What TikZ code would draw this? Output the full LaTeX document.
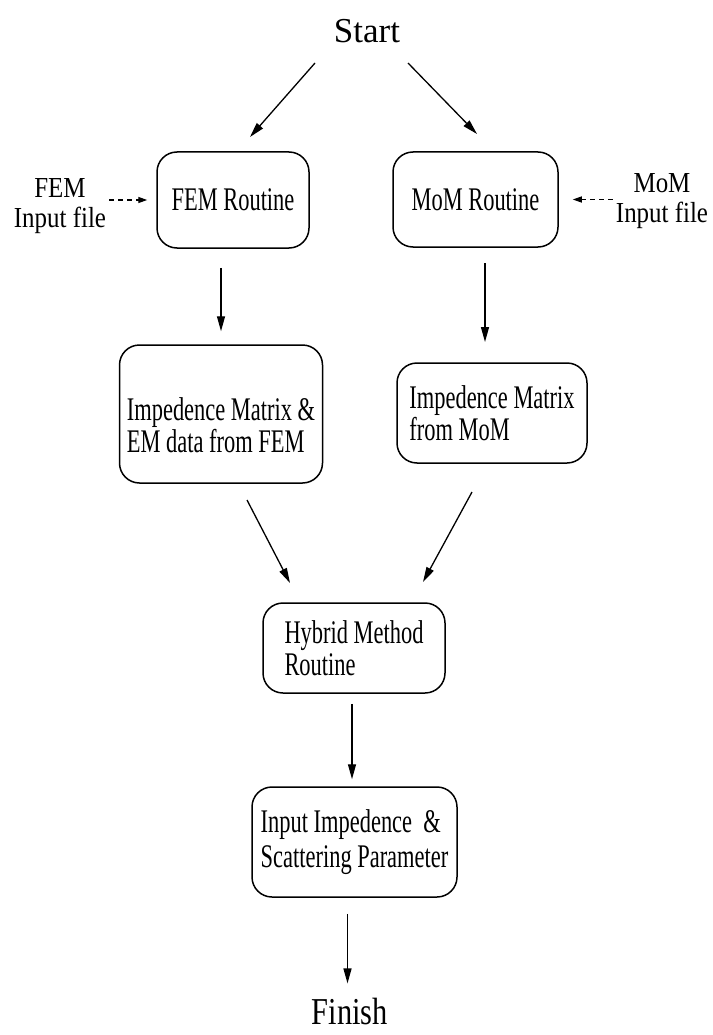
\documentclass[tikz,border=0pt]{standalone}
\usepackage{fontspec}
\setmainfont{Liberation Serif}
\newfontfamily\bodyfont[FakeStretch=0.68]{Liberation Serif}
\newfontfamily\lblfont[FakeStretch=0.86]{Liberation Serif}
\newfontfamily\finfont[FakeStretch=0.8]{Liberation Serif}
\usetikzlibrary{arrows.meta,calc}
\begin{document}
\begin{tikzpicture}[x=1pt,y=-1pt,
  box/.style={draw, line width=1.5pt, rounded corners=20pt, align=left, inner sep=0pt,
    font=\bodyfont\fontsize{33}{32}\selectfont},
  btext/.style={align=left, inner sep=0pt, font=\bodyfont\fontsize{33}{32}\selectfont},
  lbl/.style={align=center, inner sep=3pt, font=\lblfont\fontsize{29}{30}\selectfont},
  big/.style={inner sep=0pt, font=\fontsize{35}{40}\selectfont},
  arr/.style={-{Triangle[length=15pt,width=8pt]}, line width=1.3pt},
  darr/.style={-{Triangle[length=9pt,width=6pt]}, line width=1.3pt, dash pattern=on 5pt off 4pt}]
\useasboundingbox[fill=white] (0,0) rectangle (712,1035);

\node[big] (start) at (367,31) {Start};
\node[box, minimum width=152pt, minimum height=96pt] (fem) at (233,200) {FEM Routine};
\node[box, minimum width=165pt, minimum height=95pt] (mom) at (475.5,199.5) {MoM Routine};
\node[lbl] (femin) at (60,206) {FEM\\Input file};
\node[lbl] (momin) at (662,201) {MoM\\Input file};
\node[box, minimum width=203pt, minimum height=138pt] (fem2) at (221,414) {};
\node[btext] (fem2t) at (221,425) {Impedence Matrix \&\\EM data from FEM};
\node[box, minimum width=190pt, minimum height=100pt] (mom2) at (492,413) {Impedence Matrix\\from MoM};
\node[box, minimum width=182pt, minimum height=90pt] (hyb) at (354,648) {Hybrid Method\\Routine};
\node[box, minimum width=205pt, minimum height=110pt, font=\bodyfont\fontsize{33}{35}\selectfont] (inp) at (354.5,842) {Input Impedence\ \ \&\\Scattering Parameter};
\node[big, font=\finfont\fontsize{38}{42}\selectfont] (finish) at (350,1011) {Finish};

\coordinate (a1s) at (315,63);  \coordinate (a1e) at (250,137);
\coordinate (a2s) at (408,63);  \coordinate (a2e) at (477,134);
\coordinate (m1) at (485,263);  \coordinate (m2) at (485,342);
\coordinate (d1s) at (247,500); \coordinate (d1e) at (290,583);
\coordinate (d2s) at (472,492); \coordinate (d2e) at (423,582);

\draw[arr] (a1s) -- (a1e);
\draw[arr] (a2s) -- (a2e);
\draw[darr, shorten >=9pt] (femin.east |- fem.west) -- (fem.west);
\draw[darr, shorten >=14pt] (momin.west |- mom.east) -- (mom.east);
\draw[arr, shorten <=19pt, shorten >=13pt] (fem.south -| fem2.north) -- (fem2.north);
\draw[arr] (m1) -- (m2);
\draw[arr] (d1s) -- (d1e);
\draw[arr] (d2s) -- (d2e);
\draw[arr, shorten <=10pt, shorten >=7pt] ([xshift=-2pt]hyb.south) -- ([xshift=-2pt]hyb.south |- inp.north);
\draw[arr, shorten <=16pt, shorten >=14pt] ([xshift=-7pt]inp.south) -- ([xshift=-7pt]inp.south |- finish.north);
\end{tikzpicture}
\end{document}
